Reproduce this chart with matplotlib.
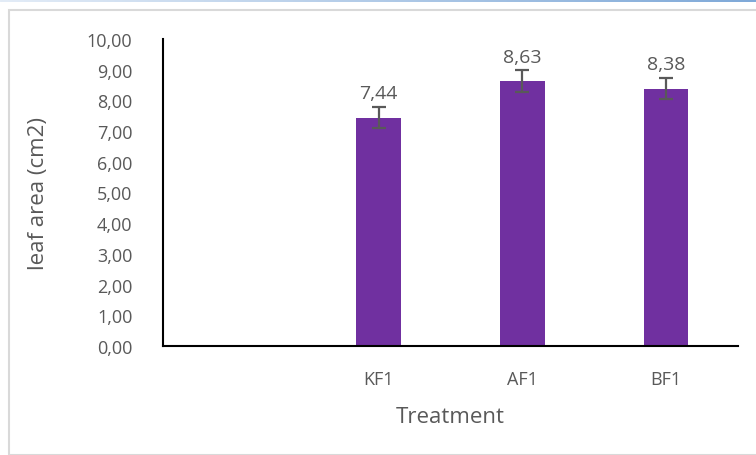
import matplotlib
matplotlib.use("Agg")
import matplotlib.pyplot as plt
import numpy as np
from matplotlib.patches import Rectangle

# data
categories = ["", "KF1", "AF1", "BF1"]
values = [np.nan, 7.44, 8.63, 8.38]
errors = [0, 0.35, 0.35, 0.35]
yticks = [0, 1, 2, 3, 4, 5, 6, 7, 8, 9, 10]

plt.rcParams['font.family'] = ['Open Sans', 'DejaVu Sans']
grey = "#595959"
purple = "#7030A0"

fig = plt.figure(figsize=(7.56, 4.56), dpi=100)

# top blue strip and chart border
strip = fig.add_axes([0, 1 - 3/456, 1, 3/456])
strip.imshow(np.linspace(0, 1, 256).reshape(1, -1), aspect="auto",
             cmap=matplotlib.colors.LinearSegmentedColormap.from_list("b", ["#e3ecf7", "#7fa9d8"]))
strip.axis("off")
fig.patches.append(Rectangle((9/756, 0), 760/756, 1 - 11/456, transform=fig.transFigure,
                             fill=False, edgecolor="#d9d9d9", linewidth=1.5))

ax = fig.add_axes([163/756, 1 - 347/456, 575/756, 307/456])
x = np.arange(len(categories))
bar_vals = np.nan_to_num(values)
ax.bar(x, bar_vals, width=0.31, color=purple)
ax.errorbar(x[1:], bar_vals[1:], yerr=errors[1:], fmt="none", ecolor=grey,
            elinewidth=1.6, capsize=5, capthick=1.6)
for xi, v, e in zip(x, values, errors):
    if np.isnan(v):
        continue
    ax.text(xi, v + e + 0.15, f"{v:.2f}".replace(".", ","), ha="center", va="bottom",
            fontsize=14, color=grey)

ax.set_xlim(-0.5, len(categories) - 0.5)
ax.set_ylim(0, 10)
ax.set_yticks(yticks)
ax.set_yticklabels([f"{t:.2f}".replace(".", ",") for t in yticks], fontsize=13, color=grey)
ax.set_xticks(x)
ax.set_xticklabels(categories, fontsize=13, color=grey)
ax.tick_params(length=0)
ax.tick_params(axis="y", pad=22)
ax.tick_params(axis="x", pad=17)
for s in ["top", "right"]:
    ax.spines[s].set_visible(False)
ax.spines["left"].set_linewidth(1.5)
ax.spines["bottom"].set_linewidth(1.5)
ax.set_ylabel("leaf area (cm2)", fontsize=16, color=grey)
ax.set_xlabel("Treatment", fontsize=16, color=grey)
ax.yaxis.set_label_coords(-114/575, 0.5)
ax.xaxis.set_label_coords(0.5, -60/307)

fig.savefig("out.png", dpi=100)
